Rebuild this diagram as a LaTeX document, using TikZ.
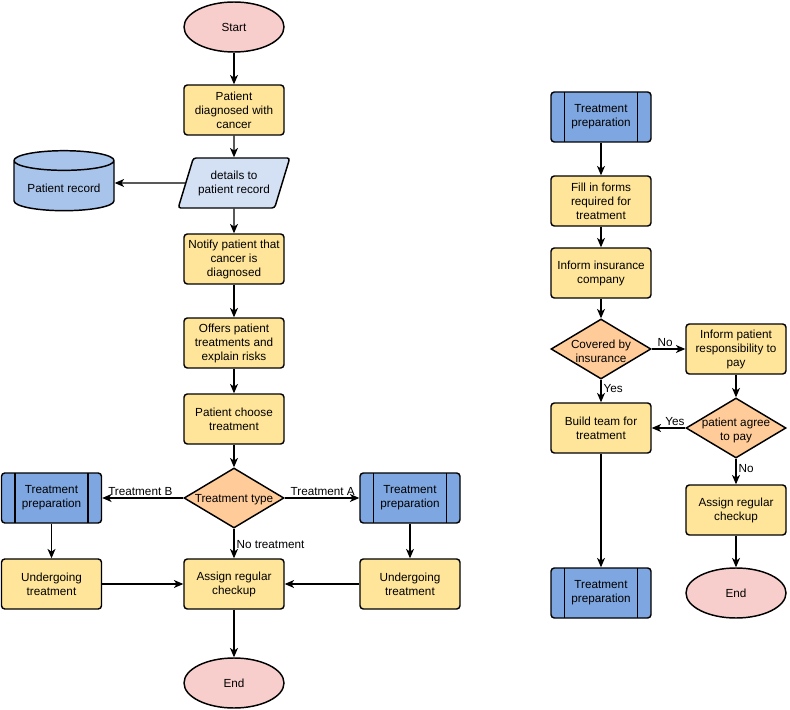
\documentclass[tikz,border=0pt]{standalone}
\usepackage{fontspec}
\setmainfont{Liberation Sans}
\usepackage{xcolor}
\usepackage{tikz}
\usetikzlibrary{shapes.geometric, arrows.meta, positioning}

\definecolor{procyel}{HTML}{FFE599}
\definecolor{termpink}{HTML}{F8CECC}
\definecolor{deciorg}{HTML}{FFCC99}
\definecolor{iolight}{HTML}{D4E1F5}
\definecolor{storeblue}{HTML}{A9C4EB}
\definecolor{prepblue}{HTML}{7EA6E0}

\begin{document}
\begin{tikzpicture}[x=0.75pt, y=-0.75pt,
  every node/.style={font=\fontsize{8.8}{10.5}\selectfont, align=center},
  pbox/.style={draw, rounded corners=2.5pt, fill=procyel, line width=1.1pt,
               minimum width=75pt, minimum height=37.5pt, inner sep=1pt},
  prep/.style={pbox, fill=prepblue,
               path picture={\draw[line width=1.1pt]
                 ([xshift=10pt]path picture bounding box.north west) --
                 ([xshift=10pt]path picture bounding box.south west)
                 ([xshift=-10pt]path picture bounding box.north east) --
                 ([xshift=-10pt]path picture bounding box.south east);}},
  term/.style={ellipse, draw, fill=termpink, line width=1.1pt,
               minimum width=75pt, minimum height=37.5pt},
  deci/.style={diamond, draw, fill=deciorg, line width=1.1pt,
               minimum width=75pt, minimum height=45pt, inner sep=0pt,
               label={[yshift=-1.5pt]center:#1}},
  io/.style={trapezium, trapezium left angle=66, trapezium right angle=114,
             trapezium stretches=true, draw, fill=iolight, line width=1.1pt,
             rounded corners=2pt, minimum width=84pt, minimum height=37.5pt},
  store/.style={cylinder, shape border rotate=90, aspect=0.24, draw,
                fill=storeblue, line width=1.1pt,
                minimum width=75pt, minimum height=45pt},
  arr/.style={-{Stealth[length=7pt, width=6pt, inset=2pt]}, line width=0.8pt},
  lbl/.style={inner sep=1.5pt},
]
\useasboundingbox (0,0) rectangle (790,710);

% --- Left flow ---
\node[term]  (start)  at (234, 27)  {Start};
\node[pbox]  (diag)   at (234,110)  {Patient\\diagnosed with\\cancer};
\node[io]    (det)    at (234,183)  {details to\\patient record};
\node[store] (rec)    at ( 64,188)  {Patient record};
\node[pbox]  (notify) at (234,259)  {Notify patient that\\cancer is\\diagnosed};
\node[pbox]  (offers) at (234,343)  {Offers patient\\treatments and\\explain risks};
\node[pbox]  (choose) at (234,419)  {Patient choose\\treatment};
\node[deci={Treatment type}] (ttype) at (234,498) {};
\node[prep]  (prepB)  at (51.5,498) {Treatment\\preparation};
\node[prep]  (prepA)  at (410,498)  {Treatment\\preparation};
\node[pbox]  (undB)   at (51.5,584) {Undergoing\\treatment};
\node[pbox]  (chkL)   at (234,584)  {Assign regular\\checkup};
\node[pbox]  (undA)   at (410,584)  {Undergoing\\treatment};
\node[term]  (endL)   at (234,683)  {End};

% --- Right flow ---
\node[prep]  (prepR)  at (601,117)  {Treatment\\preparation};
\node[pbox]  (forms)  at (601,201)  {Fill in forms\\required for\\treatment};
\node[pbox]  (insur)  at (601,273)  {Inform insurance\\company};
\node[deci={Covered by\\insurance}] (cover) at (601,349) {};
\node[pbox]  (resp)   at (736,349)  {Inform patient\\responsibility to\\pay};
\node[pbox]  (team)   at (601,428)  {Build team for\\treatment};
\node[deci={patient agree\\to pay}] (agree) at (736,428) {};
\node[pbox]  (chkR)   at (736,510)  {Assign regular\\checkup};
\node[prep]  (prepR2) at (601,593)  {Treatment\\preparation};
\node[term]  (endR)   at (736,593)  {End};

% --- Arrows, left ---
\draw[arr] (start) -- (diag);
\draw[arr] (diag) -- (det);
\draw[arr] (det) -- (rec.east |- det);
\draw[arr] (det) -- (notify);
\draw[arr] (notify) -- (offers);
\draw[arr] (offers) -- (choose);
\draw[arr] (choose) -- (ttype);
\draw[arr] (ttype.west) -- node[lbl, above, pos=0.53] {Treatment B} (prepB.east);
\draw[arr] (ttype.east) -- node[lbl, above, pos=0.51] {Treatment A} (prepA.west);
\draw[arr] (ttype.south) -- node[lbl, right, pos=0.55] {No treatment} (chkL.north);
\draw[arr] (prepB) -- (undB);
\draw[arr] (prepA) -- (undA);
\draw[arr] (undB) -- (chkL);
\draw[arr] (undA) -- (chkL);
\draw[arr] (chkL) -- (endL);

% --- Arrows, right ---
\draw[arr] (prepR) -- (forms);
\draw[arr] (forms) -- (insur);
\draw[arr] (insur) -- (cover);
\draw[arr] (cover.east) -- node[lbl, above, pos=0.4] {No} (resp.west);
\draw[arr] (cover.south) -- node[lbl, right, pos=0.37] {Yes} (team.north);
\draw[arr] (resp) -- (agree);
\draw[arr] (agree.west) -- node[lbl, above, pos=0.31] {Yes} (team.east);
\draw[arr] (agree.south) -- node[lbl, right, pos=0.37] {No} (chkR.north);
\draw[arr] (team) -- (prepR2);
\draw[arr] (chkR) -- (endR);
\end{tikzpicture}
\end{document}
